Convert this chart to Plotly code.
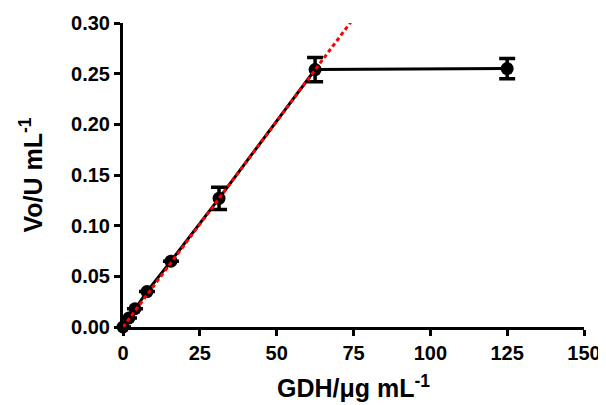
import plotly.graph_objects as go

gdh = [0, 1.95, 3.9, 7.8, 15.6, 31.25, 62.5, 125]
vo = [0.0, 0.009, 0.018, 0.035, 0.065, 0.127, 0.254, 0.255]
vo_err = [None, None, None, None, None, 0.011, 0.012, 0.010]
fit_x = [0, 75]
fit_y = [0.0, 0.3045]
x_ticks = [0, 25, 50, 75, 100, 125, 150]
y_ticks = [0, 0.05, 0.10, 0.15, 0.20, 0.25, 0.30]

FONT = "Liberation Sans"

fig = go.Figure()
fig.add_trace(go.Scatter(
    x=gdh, y=vo, mode="lines+markers",
    line=dict(color="black", width=3),
    marker=dict(color="black", size=13),
    error_y=dict(type="data", array=vo_err, color="black", thickness=3.5, width=8),
    cliponaxis=False, showlegend=False))
fig.add_trace(go.Scatter(
    x=fit_x, y=fit_y, mode="lines",
    line=dict(color="#ff0000", width=3, dash="4px,3px"),
    showlegend=False))

axis_common = dict(
    showgrid=False, zeroline=False, showline=True, linecolor="black", linewidth=3,
    ticks="outside", ticklen=6, tickwidth=3, tickcolor="black", automargin=False,
    tickfont=dict(family=FONT, size=20, color="black"))

fig.update_xaxes(range=[0, 150], tickvals=x_ticks,
                 ticktext=[f"<b>{v}</b>" for v in x_ticks],
                 title=dict(text="<b>GDH/μg mL<sup>-1</sup></b>",
                            font=dict(family=FONT, size=25, color="black"), standoff=17),
                 **axis_common)
fig.update_yaxes(range=[0, 0.30], tickvals=y_ticks,
                 ticktext=[f"<b>{v:.2f}</b>" for v in y_ticks],
                 title=dict(text="<b>Vo/U mL<sup>-1</sup></b>",
                            font=dict(family=FONT, size=25, color="black"), standoff=22),
                 **axis_common)

# page body has an 8px default margin, so the figure is shifted by 8px
fig.update_layout(width=598, height=397, plot_bgcolor="white", paper_bgcolor="white",
                  margin=dict(l=115, r=22, t=15, b=78))
fig.write_html("out.html")
